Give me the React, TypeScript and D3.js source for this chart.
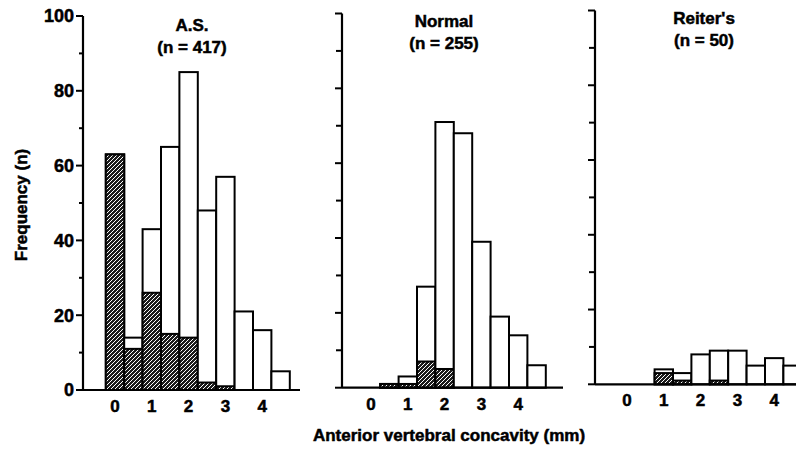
import React from 'react';
import * as d3 from 'd3';

// 0.5 mm bins, centred on these values
const binCenters = [0, 0.5, 1, 1.5, 2, 2.5, 3, 3.5, 4, 4.5];
const asTotal = [63, 14, 43, 65, 85, 48, 57, 21, 16, 5];
const asHatched = [63, 11, 26, 15, 14, 2, 1, 0, 0, 0];
const normalTotal = [0, 1, 3, 27, 71, 68, 39, 19, 14, 6];
const normalHatched = [0, 1, 1, 7, 5, 0, 0, 0, 0, 0];
const reiterTotal = [0, 0, 4, 3, 8, 9, 9, 5, 7, 5];
const reiterHatched = [0, 0, 3, 1, 0, 1, 0, 0, 0, 0];

const panelTitles = ['A.S.', 'Normal', "Reiter's"];
const panelCounts = ['(n = 417)', '(n = 255)', '(n = 50)'];
const xTicks = [0, 1, 2, 3, 4];
const yMajor = [0, 20, 40, 60, 80, 100];
const yMinor = [10, 30, 50, 70, 90];

const W = 796;
const H = 449;
const FONT = '"Liberation Sans", Arial, Helvetica, sans-serif';
// scanned type is heavy, thicken it a bit
const ink = { fontWeight: 'bold', fontFamily: FONT, stroke: '#000', strokeWidth: 0.5 } as const;

type Panel = {
  left: number; // x of y-axis
  right: number; // end of baseline
  x0: number; // pixel of 0 mm
  top: number; // pixel of 100
  base: number; // pixel of 0
  titleX: number;
  titleY: number;
  total: number[];
  hatched: number[];
  labels: boolean;
};

const panels: Panel[] = [
  { left: 83, right: 300, x0: 115, top: 16, base: 390, titleX: 192, titleY: 31, total: asTotal, hatched: asHatched, labels: true },
  { left: 342, right: 563, x0: 371, top: 13.5, base: 387.7, titleX: 444, titleY: 27, total: normalTotal, hatched: normalHatched, labels: false },
  { left: 595, right: 800, x0: 627, top: 10.5, base: 384.3, titleX: 704, titleY: 24, total: reiterTotal, hatched: reiterHatched, labels: false },
];

const UNIT = 36.8; // px per mm
const BIN = 0.5;

function HistPanel({ p, i }: { p: Panel; i: number }) {
  const x = d3.scaleLinear().domain([0, 1]).range([p.x0, p.x0 + UNIT]);
  const y = d3.scaleLinear().domain([0, 100]).range([p.base, p.top]);
  return (
    <g>
      {binCenters.map((c, k) =>
        p.total[k] > 0 ? (
          <g key={k}>
            <rect
              x={x(c - BIN / 2)}
              y={y(p.total[k])}
              width={x(c + BIN / 2) - x(c - BIN / 2)}
              height={y(0) - y(p.total[k])}
              fill="#fff"
              stroke="#000"
              strokeWidth={2}
            />
            {p.hatched[k] > 0 && (
              <rect
                x={x(c - BIN / 2)}
                y={y(p.hatched[k])}
                width={x(c + BIN / 2) - x(c - BIN / 2)}
                height={y(0) - y(p.hatched[k])}
                fill="url(#hatch)"
                stroke="#000"
                strokeWidth={2}
              />
            )}
          </g>
        ) : null
      )}
      {/* axes */}
      <line x1={p.left} x2={p.left} y1={y(0)} y2={y(100)} stroke="#000" strokeWidth={2.2} />
      <line x1={p.left} x2={p.right} y1={y(0)} y2={y(0)} stroke="#000" strokeWidth={2.2} />
      {yMajor.map((t) => (
        <line key={'M' + t} x1={p.left - 7} x2={p.left} y1={y(t)} y2={y(t)} stroke="#000" strokeWidth={2} />
      ))}
      {yMinor.map((t) => (
        <line key={'m' + t} x1={p.left - (p.labels ? 4 : 6)} x2={p.left} y1={y(t)} y2={y(t)} stroke="#000" strokeWidth={2} />
      ))}
      {p.labels &&
        yMajor.map((t) => (
          <text key={'l' + t} x={p.left - 9} y={y(t)} dy="0.36em" textAnchor="end" fontSize={18} {...ink}>
            {t}
          </text>
        ))}
      {xTicks.map((t) => (
        <text key={'x' + t} x={x(t)} y={p.base + 22} textAnchor="middle" fontSize={17} {...ink}>
          {t}
        </text>
      ))}
      <text x={p.titleX} y={p.titleY} textAnchor="middle" fontSize={17} {...ink}>
        {panelTitles[i]}
      </text>
      <text x={p.titleX} y={p.titleY + 22} textAnchor="middle" fontSize={17} {...ink}>
        {panelCounts[i]}
      </text>
    </g>
  );
}

export default function App() {
  return (
    <svg width={W} height={H} style={{ position: 'absolute', left: 0, top: 0, background: '#fff' }}>
      <defs>
        <pattern id="hatch" patternUnits="userSpaceOnUse" width={4} height={4}>
          <rect width={4} height={4} fill="#1c1c1c" />
          <path d="M-1,1 l2,-2 M0,4 l4,-4 M3,5 l2,-2" stroke="#fff" strokeWidth={1} />
        </pattern>
      </defs>
      <rect width={W} height={H} fill="#fff" />
      {panels.map((p, i) => (
        <HistPanel key={i} p={p} i={i} />
      ))}
      <text transform="translate(27,205) rotate(-90)" textAnchor="middle" fontSize={17} {...ink}>
        Frequency (n)
      </text>
      <text x={449} y={441} textAnchor="middle" fontSize={17} {...ink}>
        Anterior vertebral concavity (mm)
      </text>
    </svg>
  );
}
